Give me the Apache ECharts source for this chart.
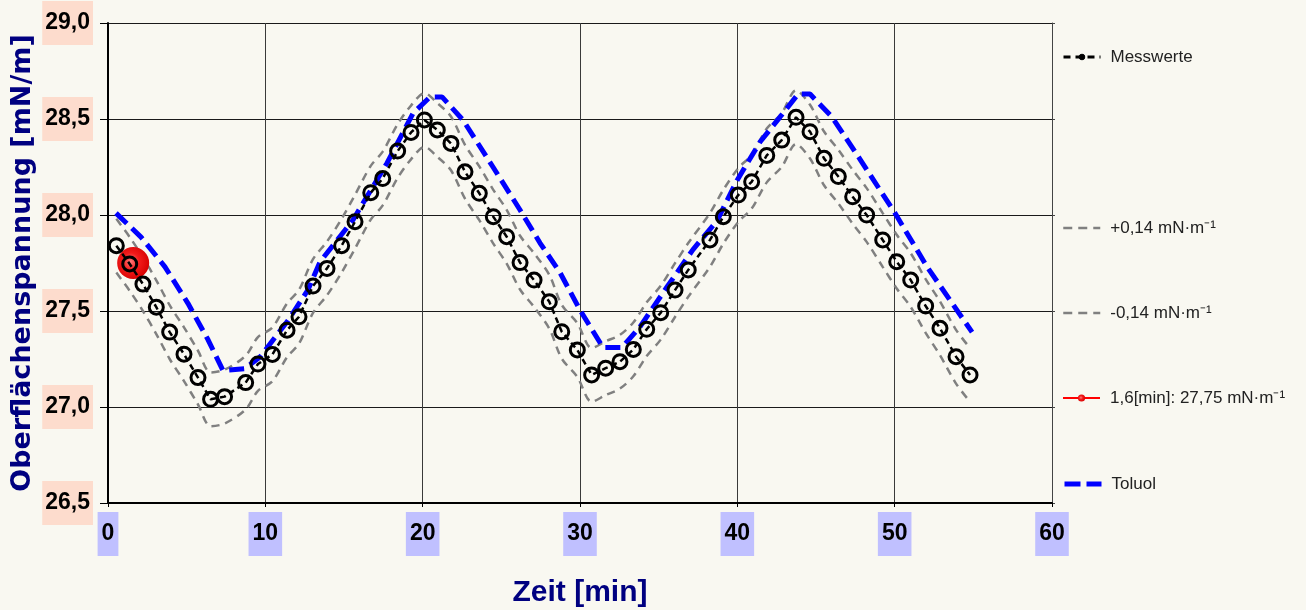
<!DOCTYPE html>
<html>
<head>
<meta charset="utf-8">
<script src="https://cdn.jsdelivr.net/npm/echarts@6/dist/echarts.min.js"></script>
<style>
html,body{margin:0;padding:0;background:#f9f8f1;}
#chart{width:1306px;height:610px;}
</style>
</head>
<body>
<div id="chart"></div>
<script>
// ---- data ----
const timeMin = [0.53,1.38,2.22,3.07,3.92,4.83,5.72,6.52,7.41,8.75,9.53,10.45,11.38,12.14,13.03,13.92,14.85,15.70,16.70,17.46,18.41,19.26,20.11,20.93,21.80,22.69,23.60,24.49,25.34,26.19,27.08,28.05,28.84,29.83,30.74,31.63,32.54,33.39,34.24,35.13,36.04,36.88,38.26,39.11,40.06,40.91,41.87,42.82,43.73,44.62,45.51,46.42,47.33,48.22,49.24,50.13,51.02,51.97,52.88,53.90,54.79];
const messwerte = [27.84,27.745,27.64,27.52,27.39,27.275,27.153,27.04,27.054,27.127,27.224,27.274,27.40,27.47,27.63,27.722,27.84,27.965,28.116,28.19,28.333,28.43,28.495,28.443,28.373,28.225,28.113,27.991,27.887,27.752,27.661,27.548,27.392,27.297,27.167,27.202,27.236,27.30,27.405,27.491,27.609,27.714,27.87,27.991,28.104,28.173,28.31,28.39,28.509,28.434,28.295,28.20,28.095,28.00,27.87,27.757,27.661,27.526,27.41,27.262,27.167];
const upperBand = [27.98,27.885,27.78,27.66,27.53,27.415,27.293,27.18,27.194,27.267,27.364,27.414,27.54,27.61,27.77,27.862,27.98,28.105,28.256,28.33,28.473,28.57,28.635,28.583,28.513,28.365,28.253,28.131,28.027,27.892,27.801,27.688,27.532,27.437,27.307,27.342,27.376,27.44,27.545,27.631,27.749,27.854,28.01,28.131,28.244,28.313,28.45,28.53,28.649,28.574,28.435,28.34,28.235,28.14,28.01,27.897,27.801,27.666,27.55,27.402,27.307];
const lowerBand = [27.70,27.605,27.50,27.38,27.25,27.135,27.013,26.90,26.914,26.987,27.084,27.134,27.26,27.33,27.49,27.582,27.70,27.825,27.976,28.05,28.193,28.29,28.355,28.303,28.233,28.085,27.973,27.851,27.747,27.612,27.521,27.408,27.252,27.157,27.027,27.062,27.096,27.16,27.265,27.351,27.469,27.574,27.73,27.851,27.964,28.033,28.17,28.25,28.369,28.294,28.155,28.06,27.955,27.86,27.73,27.617,27.521,27.386,27.27,27.122,27.027];
const toluolTime = [0.51,2.1,3.62,5.08,6.36,7.31,8.7,9.66,11.44,12.71,13.47,15.57,17.73,19.39,20.47,21.23,22.56,24.47,26.19,27.46,28.73,30.0,31.46,32.67,33.81,35.53,37.18,38.71,39.98,41.44,42.71,43.86,44.62,46.02,47.8,50.02,52.06,54.92];
const toluolValues = [28.01,27.885,27.73,27.54,27.35,27.19,27.20,27.26,27.45,27.61,27.755,27.974,28.27,28.53,28.615,28.615,28.495,28.25,28.026,27.854,27.70,27.505,27.31,27.31,27.417,27.625,27.82,27.97,28.18,28.38,28.51,28.63,28.63,28.51,28.29,28.01,27.73,27.39];
const markerTime = [1.6];
const markerValue = [27.75];
const seriesNames = ['Messwerte', '+0,14 mN·m⁻¹', '-0,14 mN·m⁻¹', '1,6[min]: 27,75 mN·m⁻¹', 'Toluol'];
const legendCenters = [57, 228, 313, 398, 484];

const pair = (xs, ys) => xs.map((x, i) => [x, ys[i]]);
const sans = "'Liberation Sans', Arial, sans-serif";
const comma = v => v.toFixed(1).replace('.', ',');
const hiddenSymbol = {color: 'rgba(0,0,0,0)', borderWidth: 0};

const chart = echarts.init(document.getElementById('chart'), null, {renderer: 'canvas'});

const legendItems = [
  {name: seriesNames[0], lineStyle: {width: 3, type: [7, 5]}, itemStyle: {color: '#000', borderColor: '#000', borderWidth: 1}},
  {name: seriesNames[1], itemStyle: hiddenSymbol, lineStyle: {width: 2.5, type: [9, 6]}},
  {name: seriesNames[2], itemStyle: hiddenSymbol, lineStyle: {width: 2.5, type: [9, 6]}},
  {name: seriesNames[3], lineStyle: {width: 2}},
  {name: seriesNames[4], itemStyle: hiddenSymbol, lineStyle: {width: 5, type: [16, 6]}}
];
const legendIconHeights = [7, 10, 10, 9, 10];
const legends = legendItems.map((item, i) => ({
  data: [item],
  left: 1062,
  top: legendCenters[i] - 11,
  orient: 'vertical',
  itemWidth: 37,
  itemHeight: legendIconHeights[i],
  selectedMode: false,
  padding: 0,
  textStyle: {fontFamily: sans, fontSize: 17, color: '#222', padding: [0, 0, 0, 5], lineHeight: 22}
}));

const option = {
  backgroundColor: '#f9f8f1',
  animation: false,
  grid: {left: 108, right: 254, top: 23, bottom: 107, outerBoundsMode: 'none', show: false},
  legend: legends,
  xAxis: {
    type: 'value', min: 0, max: 60, interval: 10,
    name: 'Zeit [min]', nameLocation: 'middle', nameGap: 75, nameMoveOverlap: false,
    nameTextStyle: {fontFamily: sans, fontWeight: 'bold', fontSize: 30, color: '#000080'},
    axisLine: {show: true, lineStyle: {color: '#000', width: 2}},
    axisTick: {show: true, length: 4, lineStyle: {color: '#000'}},
    axisLabel: {fontFamily: sans, fontWeight: 'bold', fontSize: 23, lineHeight: 26, color: '#000',
      backgroundColor: '#c0c0ff', padding: [9, 4, 9, 4], margin: 9},
    splitLine: {show: true, lineStyle: {color: '#3a3a3a', width: 1}}
  },
  yAxis: [{
    type: 'value', min: 26.5, max: 29, interval: 0.5,
    name: 'Oberflächenspannung [mN/m]', nameLocation: 'middle', nameRotate: 90, nameGap: 72, nameMoveOverlap: false,
    nameTextStyle: {fontFamily: "'DejaVu Sans', Verdana, sans-serif", fontWeight: 'bold', fontSize: 27, color: '#000080'},
    axisLine: {show: true, lineStyle: {color: '#000', width: 2}},
    axisTick: {show: true, length: 8, lineStyle: {color: '#000'}},
    axisLabel: {formatter: comma, fontFamily: sans, fontWeight: 'bold', fontSize: 23, lineHeight: 26, color: '#000',
      backgroundColor: '#fddccd', padding: [9, 3, 9, 3], margin: 15},
    splitLine: {show: true, lineStyle: {color: '#1a1a1a', width: 1}}
  }, {
    type: 'value', min: 26.5, max: 29, interval: 0.5, position: 'right',
    axisLine: {show: true, lineStyle: {color: '#444', width: 1}},
    axisTick: {show: true, length: 3, lineStyle: {color: '#444'}},
    axisLabel: {show: false}, splitLine: {show: false}
  }],
  series: [
    {
      name: seriesNames[1], type: 'line', data: pair(timeMin, upperBand),
      smooth: 0.3, symbol: 'none', z: 2,
      itemStyle: {color: '#808080'},
      lineStyle: {color: '#808080', width: 2.5, type: [8, 6]}
    },
    {
      name: seriesNames[2], type: 'line', data: pair(timeMin, lowerBand),
      smooth: 0.3, symbol: 'none', z: 2,
      itemStyle: {color: '#808080'},
      lineStyle: {color: '#808080', width: 2.5, type: [8, 6]}
    },
    {
      name: seriesNames[4], type: 'line', data: pair(toluolTime, toluolValues),
      symbol: 'none', z: 3,
      itemStyle: {color: '#0000ff'},
      lineStyle: {color: '#0000ff', width: 5, type: [15, 7]}
    },
    {
      name: seriesNames[3], type: 'line', data: pair(markerTime, markerValue),
      symbol: 'circle', symbolSize: 32, z: 4,
      itemStyle: {color: {type: 'radial', x: 0.42, y: 0.45, r: 0.6, colorStops: [
        {offset: 0, color: '#ff7a7a'}, {offset: 0.45, color: '#f21a1a'}, {offset: 1, color: '#d60000'}]}},
      lineStyle: {color: '#ff0000', width: 2}
    },
    {
      name: seriesNames[0], type: 'line', data: pair(timeMin, messwerte),
      symbol: 'circle', symbolSize: 14, z: 5,
      itemStyle: {color: 'rgba(0,0,0,0)', borderColor: '#000', borderWidth: 3},
      lineStyle: {color: '#000', width: 2.5, type: [6, 4]}
    }
  ]
};
chart.setOption(option);
</script>
</body>
</html>
